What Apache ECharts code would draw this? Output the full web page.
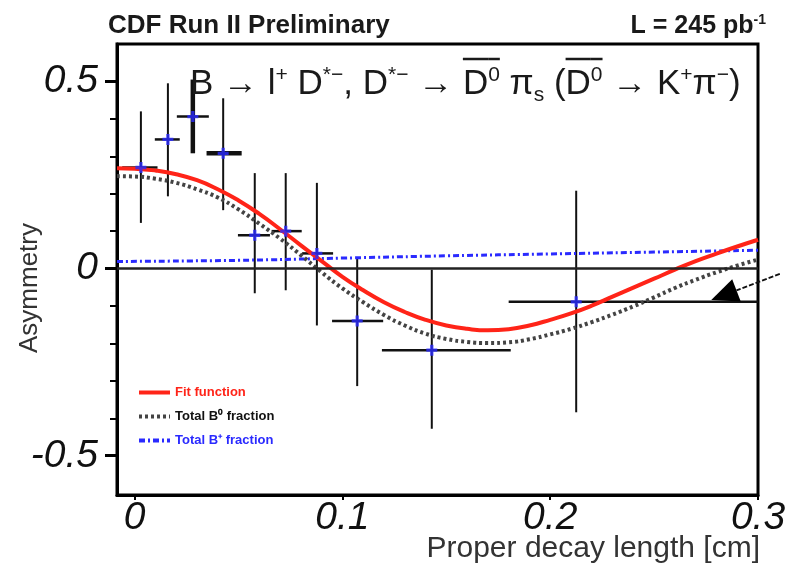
<!DOCTYPE html>
<html>
<head>
<meta charset="utf-8">
<script src="https://cdn.jsdelivr.net/npm/echarts@6/dist/echarts.min.js"></script>
<style>
  html, body { margin: 0; padding: 0; background: #fff; }
  #chart { width: 787px; height: 567px; }
</style>
</head>
<body>
<div id="chart"></div>
<script>
// Measured asymmetry per proper-decay-length bin [cm]
const decayLength = [0.003, 0.016, 0.028, 0.0426, 0.0578, 0.0727, 0.0877, 0.1071, 0.143, 0.2125];
const lengthLow   = [-0.006, 0.0097, 0.0203, 0.0346, 0.0497, 0.0659, 0.0806, 0.095, 0.119, 0.18];
const lengthHigh  = [0.011, 0.0217, 0.0357, 0.0515, 0.0651, 0.0804, 0.0955, 0.1196, 0.181, 0.3];
const asymmetry   = [0.27, 0.345, 0.406, 0.308, 0.089, 0.1, 0.0405, -0.14, -0.218, -0.089];
const asymLow     = [0.122, 0.193, 0.308, 0.156, -0.066, -0.058, -0.152, -0.314, -0.428, -0.384];
const asymHigh    = [0.42, 0.495, 0.505, 0.455, 0.255, 0.255, 0.229, 0.026, -0.003, 0.208];

// Fit curves sampled along the decay length
const curveLength = [-0.0085, 0, 0.01, 0.02, 0.03, 0.04, 0.05, 0.06, 0.07, 0.08, 0.09, 0.10,
  0.11, 0.12, 0.13, 0.14, 0.15, 0.16, 0.17, 0.18, 0.19, 0.20, 0.21, 0.22, 0.23, 0.24, 0.25,
  0.26, 0.27, 0.28, 0.29, 0.30];
const fitFunction = [0.268, 0.267, 0.262, 0.252, 0.236, 0.212, 0.182, 0.146, 0.105, 0.062, 0.02,
  -0.022, -0.058, -0.09, -0.116, -0.137, -0.152, -0.161, -0.165, -0.162, -0.152, -0.137, -0.12,
  -0.099, -0.075, -0.051, -0.027, -0.003, 0.02, 0.04, 0.059, 0.077];
const b0Fraction = [0.247, 0.246, 0.24, 0.229, 0.212, 0.19, 0.158, 0.12, 0.08, 0.036, -0.01,
  -0.053, -0.09, -0.124, -0.152, -0.174, -0.188, -0.196, -0.199, -0.197, -0.189, -0.176, -0.161,
  -0.143, -0.123, -0.101, -0.077, -0.052, -0.03, -0.01, 0.008, 0.024];
const bPlusLength   = [-0.0085, 0.05, 0.1, 0.15, 0.2, 0.25, 0.3];
const bPlusFraction = [0.019, 0.022, 0.028, 0.034, 0.039, 0.044, 0.049];

// Axis ticks
const xTicks = [0, 0.1, 0.2, 0.3];
const yTicks = [-0.5, 0, 0.5];
const yMinorTicks = [-0.4, -0.3, -0.2, -0.1, 0.1, 0.2, 0.3, 0.4];

const seriesNames = ['Fit function', 'Total B\u2070 fraction', 'Total B\u207A fraction'];

const FAMILY = '"Liberation Sans", Arial, sans-serif';
const RED = '#ff2418';
const BLUE = '#2a2aff';

const chart = echarts.init(document.getElementById('chart'), null, { renderer: 'canvas' });

const zip = (xs, ys) => xs.map((x, i) => [x, ys[i]]);
const points = decayLength.map((x, i) => [x, asymmetry[i], lengthLow[i], lengthHigh[i], asymLow[i], asymHigh[i]]);

const tickLabel = v => (Math.abs(v) < 1e-9 ? '0' : String(v));

chart.setOption({
  animation: false,
  backgroundColor: '#fff',
  grid: {
    left: 117, right: 29, top: 44, bottom: 72,
    show: true, borderColor: '#000', borderWidth: 3,
    outerBoundsMode: 'none'
  },
  legend: {
    left: 137, top: 386, orient: 'vertical', padding: 0,
    itemWidth: 31, itemHeight: 12, itemGap: 11,
    itemStyle: { opacity: 0 },
    lineStyle: { width: 4 },
    textStyle: { fontSize: 13, fontWeight: 'bold', fontFamily: FAMILY },
    data: [
      { name: seriesNames[0], textStyle: { color: RED } },
      { name: seriesNames[1], textStyle: { color: '#111' } },
      { name: seriesNames[2], textStyle: { color: BLUE } }
    ]
  },
  xAxis: {
    type: 'value', min: -0.0085, max: 0.3,
    axisLine: { show: true, onZero: false, lineStyle: { color: '#000', width: 3 } },
    axisTick: { show: true, customValues: xTicks, length: 5, lineStyle: { color: '#000', width: 2 } },
    axisLabel: {
      customValues: xTicks, formatter: tickLabel, margin: 4,
      fontSize: 39, fontStyle: 'italic', fontFamily: FAMILY, color: '#111'
    },
    splitLine: { show: false }
  },
  yAxis: [{
    type: 'value', min: -0.605, max: 0.6, position: 'left',
    axisLine: { show: true, onZero: false, lineStyle: { color: '#000', width: 3 } },
    axisTick: { show: true, customValues: yTicks, length: 12, lineStyle: { color: '#000', width: 3 } },
    axisLabel: {
      customValues: yTicks, formatter: tickLabel, margin: 19,
      fontSize: 39, fontStyle: 'italic', fontFamily: FAMILY, color: '#111'
    },
    splitLine: { show: false }
  }, {
    type: 'value', min: -0.605, max: 0.6, position: 'left', offset: 0,
    axisLine: { show: false, onZero: false },
    axisTick: { show: true, customValues: yMinorTicks, length: 7, lineStyle: { color: '#000', width: 2 } },
    axisLabel: { show: false },
    splitLine: { show: false }
  }],
  series: [
    {
      // error bars with the zero reference line
      type: 'custom',
      name: 'bins',
      z: 2,
      data: points,
      encode: { x: 0, y: 1 },
      renderItem: (params, api) => {
        const y = api.value(1);
        const x = api.value(0);
        const h0 = api.coord([api.value(2), y]);
        const h1 = api.coord([api.value(3), y]);
        const v0 = api.coord([x, api.value(4)]);
        const v1 = api.coord([x, api.value(5)]);
        const i = params.dataIndex;
        return {
          type: 'group',
          children: [
            { type: 'line', shape: { x1: h0[0], y1: h0[1], x2: h1[0], y2: h1[1] },
              style: { stroke: '#111', lineWidth: i === 3 ? 4.5 : 2.5 } },
            { type: 'line', shape: { x1: v0[0], y1: v0[1], x2: v1[0], y2: v1[1] },
              style: { stroke: '#111', lineWidth: i === 2 ? 4.5 : 2 } }
          ]
        };
      },
      markLine: {
        silent: true, symbol: 'none', label: { show: false },
        lineStyle: { color: '#222', width: 2.5, type: 'solid' },
        data: [{ yAxis: 0 }]
      }
    },
    {
      name: seriesNames[2], type: 'line', z: 3, symbol: 'none', smooth: true,
      data: zip(bPlusLength, bPlusFraction),
      lineStyle: { color: BLUE, width: 3, type: [6, 3, 2, 3] },
      itemStyle: { color: BLUE }
    },
    {
      name: seriesNames[1], type: 'line', z: 3, symbol: 'none', smooth: true,
      data: zip(curveLength, b0Fraction),
      lineStyle: { color: '#444', width: 4, type: [3, 3] },
      itemStyle: { color: '#222' }
    },
    {
      name: seriesNames[0], type: 'line', z: 4, symbol: 'none', smooth: true,
      data: zip(curveLength, fitFunction),
      lineStyle: { color: RED, width: 4 },
      itemStyle: { color: RED }
    },
    {
      // bin centres
      type: 'scatter', name: 'centres', z: 5,
      data: zip(decayLength, asymmetry),
      symbol: 'path://M3.5,0 L6.5,0 L6.5,3.5 L10,3.5 L10,6.5 L6.5,6.5 L6.5,10 L3.5,10 L3.5,6.5 L0,6.5 L0,3.5 L3.5,3.5 Z',
      symbolSize: 11,
      itemStyle: { color: BLUE }
    }
  ]
});

// Text with superscripts, subscripts and overlines, laid out piece by piece
const measureCtx = document.createElement('canvas').getContext('2d');
function layoutPieces(pieces, baseline, opts) {
  const weight = opts.weight || 'normal';
  const widths = pieces.map(p => {
    measureCtx.font = `${weight} ${p.size}px ${FAMILY}`;
    return measureCtx.measureText(p.text).width;
  });
  const total = widths.reduce((a, b) => a + b, 0);
  let x = opts.align === 'right' ? opts.x - total : opts.x;
  const els = [];
  pieces.forEach((p, i) => {
    const yb = baseline + (p.dy || 0);
    els.push({
      type: 'text', x: x, y: yb - 0.35 * p.size, z: 50,
      style: {
        text: p.text, font: `${weight} ${p.size}px ${FAMILY}`,
        fill: opts.color, align: 'left', verticalAlign: 'middle'
      }
    });
    if (p.over) {
      const oy = baseline - opts.overY;
      els.push({
        type: 'line', z: 50,
        shape: { x1: x, y1: oy, x2: x + widths[i], y2: oy },
        style: { stroke: opts.color, lineWidth: 2.5 }
      });
    }
    x += widths[i];
  });
  return els;
}

const S = 35, SUP = 21;
const M = t => ({ text: t, size: S });
const U = (t, over) => ({ text: t, size: SUP, dy: -14.5, over });
const D = t => ({ text: t, size: SUP, dy: 6 });

const processText = layoutPieces([
  M('B \u2192 l'), U('+'), M(' D'), U('*\u2212'), M(', D'), U('*\u2212'), M(' \u2192 '),
  { text: 'D', size: S, over: true }, U('0', true), M(' \u03C0'), D('s'), M(' ('),
  { text: 'D', size: S, over: true }, U('0', true), M(' \u2192 K'), U('+'), M('\u03C0'), U('\u2212'), M(')')
], 97, { x: 190, color: '#1a1a1a', overY: 38 });

const lumiText = layoutPieces([
  { text: 'L = 245 pb', size: 25 }, { text: '-1', size: 14, dy: -10 }
], 35, { x: 766, align: 'right', color: '#1a1a1a', weight: 'bold' });

// Arrow pointing at the last bin
const arrowTail = [0.3105, -0.014];
const arrowTip = [0.2775, -0.084];
const p0 = chart.convertToPixel({ xAxisIndex: 0, yAxisIndex: 0 }, arrowTail);
const p1 = chart.convertToPixel({ xAxisIndex: 0, yAxisIndex: 0 }, arrowTip);
const ddx = p1[0] - p0[0], ddy = p1[1] - p0[1];
const len = Math.hypot(ddx, ddy);
const ux = ddx / len, uy = ddy / len;
const headLen = 27, headHalf = 12;
const bx = p1[0] - ux * headLen, by = p1[1] - uy * headLen;

chart.setOption({
  graphic: [
    {
      type: 'text', left: 108, top: 13, z: 50,
      style: { text: 'CDF Run II Preliminary', font: `bold 26px ${FAMILY}`, fill: '#1a1a1a' }
    },
    ...lumiText,
    ...processText,
    {
      type: 'text', x: 30, y: 288, rotation: Math.PI / 2, z: 50,
      style: { text: 'Asymmetry', font: `26px ${FAMILY}`, fill: '#333', align: 'center', verticalAlign: 'middle' }
    },
    {
      type: 'text', x: 760, y: 549, z: 50,
      style: { text: 'Proper decay length [cm]', font: `30px ${FAMILY}`, fill: '#333', align: 'right', verticalAlign: 'middle' }
    },
    {
      type: 'line', z: 40,
      shape: { x1: p0[0], y1: p0[1], x2: bx, y2: by },
      style: { stroke: '#111', lineWidth: 1.8, lineDash: [5, 2] }
    },
    {
      type: 'polygon', z: 40,
      shape: { points: [
        [p1[0], p1[1]],
        [bx - uy * headHalf, by + ux * headHalf],
        [bx + uy * headHalf, by - ux * headHalf]
      ] },
      style: { fill: '#000' }
    }
  ]
});
</script>
</body>
</html>
